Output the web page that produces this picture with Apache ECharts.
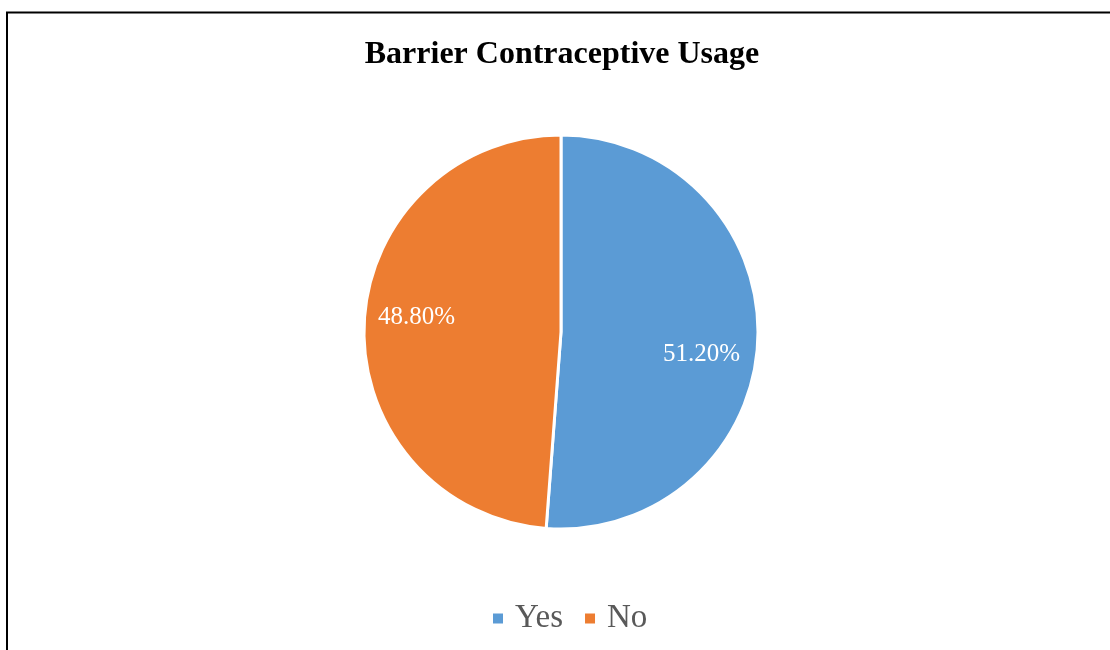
<!DOCTYPE html>
<html>
<head>
<meta charset="utf-8">
<script src="https://cdn.jsdelivr.net/npm/echarts@6/dist/echarts.min.js"></script>
<style>
  html, body { margin: 0; padding: 0; background: #fff; }
  #chart { width: 1110px; height: 650px; }
</style>
</head>
<body>
<div id="chart"></div>
<script>
// Survey answers and their shares (percent)
const categories = ['Yes', 'No'];
const shares = [51.2, 48.8];
const colors = ['#5B9BD5', '#ED7D31'];

// Nudges for the in-slice percentage labels
const labelShift = [
  { dx: 39, dy: 19 },
  { dx: -43, dy: -11 }
];

const serif = 'Liberation Serif, Times New Roman, serif';

const chart = echarts.init(document.getElementById('chart'), null, { renderer: 'canvas' });

chart.setOption({
  backgroundColor: '#ffffff',
  animation: false,
  graphic: [{
    type: 'rect',
    shape: { x: 7, y: 12.5, width: 1200, height: 700 },
    style: { fill: 'none', stroke: '#000', lineWidth: 2 },
    silent: true
  }],
  title: {
    text: 'Barrier Contraceptive Usage',
    left: 557,
    textAlign: 'center',
    top: 34,
    textStyle: {
      fontFamily: serif,
      fontWeight: 'bold',
      fontSize: 32,
      color: '#000'
    }
  },
  legend: {
    data: categories,
    bottom: 10,
    left: 486,
    itemWidth: 12,
    itemHeight: 12,
    itemGap: 20,
    icon: 'rect',
    textStyle: {
      fontFamily: serif,
      fontSize: 33,
      color: '#595959',
      padding: [0, 0, 0, 6]
    }
  },
  series: [{
    type: 'pie',
    center: [561, 332],
    radius: 197,
    startAngle: 90,
    clockwise: true,
    data: categories.map((name, i) => ({
      name,
      value: shares[i],
      itemStyle: { color: colors[i] }
    })),
    itemStyle: { borderColor: '#ffffff', borderWidth: 3 },
    label: {
      show: true,
      position: 'inside',
      formatter: p => p.value.toFixed(2) + '%',
      fontFamily: serif,
      fontSize: 25,
      color: '#ffffff'
    },
    labelLine: { show: false },
    labelLayout: params => labelShift[params.dataIndex],
    emphasis: { disabled: true }
  }]
});
</script>
</body>
</html>
